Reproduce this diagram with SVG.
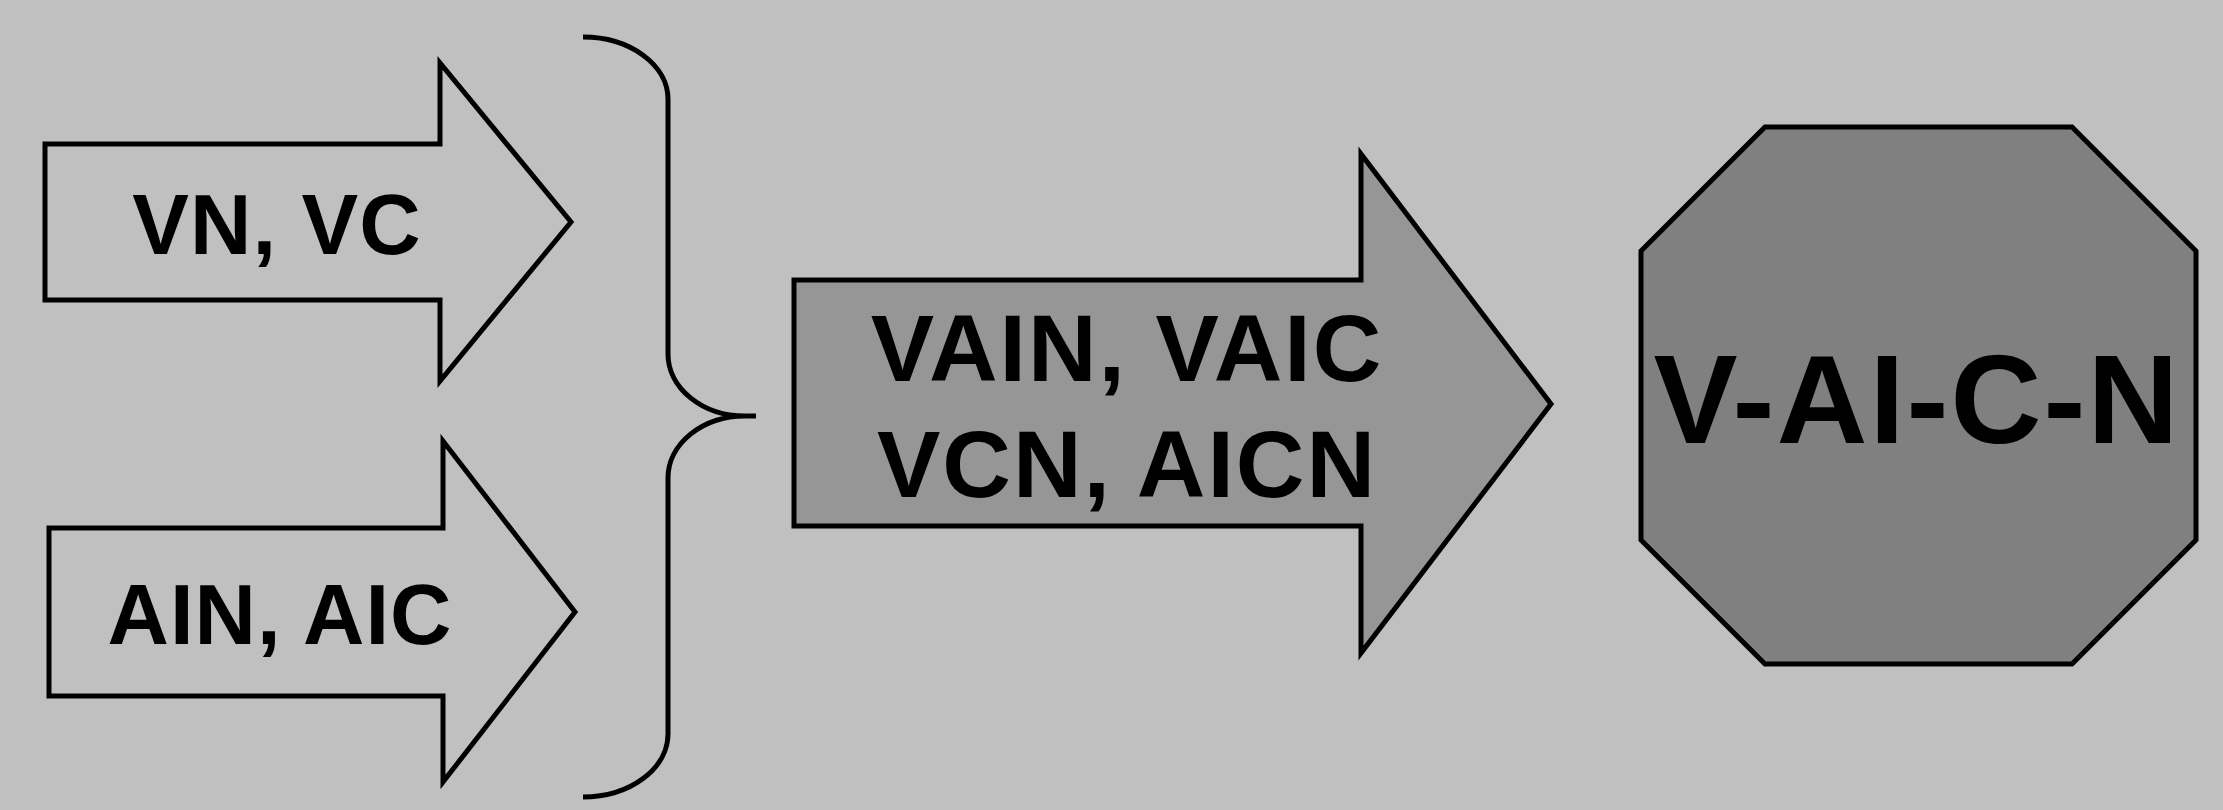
<svg xmlns="http://www.w3.org/2000/svg" width="2223" height="810" viewBox="0 0 2223 810">
  <style>
    .shape { stroke: #000; stroke-width: 5; stroke-linejoin: miter; }
    .label { font-family: "Liberation Sans", Arial, sans-serif; font-weight: bold; fill: #000; text-anchor: middle; }
    .brace { fill: none; stroke: #000; stroke-width: 5; }
  </style>
  <rect x="0" y="0" width="2223" height="810" fill="#c0c0c0"/>

  <!-- input arrows -->
  <g id="arrow-vn-vc">
    <polygon class="shape" fill="#c0c0c0" points="45,144 440,144 440,63 571,222 440,381 440,300 45,300"/>
    <text class="label" x="277" y="254" font-size="85" letter-spacing="1">VN, VC</text>
  </g>
  <g id="arrow-ain-aic">
    <polygon class="shape" fill="#c0c0c0" points="49,528 443,528 443,441 575,612 443,782 443,696 49,696"/>
    <text class="label" x="280" y="644" font-size="85" letter-spacing="1">AIN, AIC</text>
  </g>

  <!-- brace joining the two inputs -->
  <g id="connectors">
    <path class="brace" d="M583,37 A85 62 0 0 1 668,99 L668,354 A77 62 0 0 0 745,416 L756,416 M745,416 A77 62 0 0 0 668,478 L668,734 A85 63 0 0 1 583,797"/>
  </g>

  <!-- combined systems arrow -->
  <g id="arrow-ternary">
    <polygon class="shape" fill="#969696" points="794,280 1361,280 1361,154 1551,404 1361,653 1361,526 794,526"/>
    <text class="label" x="1127" y="381" font-size="95" letter-spacing="2">VAIN, VAIC</text>
    <text class="label" x="1127" y="497" font-size="95" letter-spacing="2">VCN, AICN</text>
  </g>

  <!-- quaternary result -->
  <g id="octagon-vaicn">
    <polygon class="shape" fill="#808080" points="1765,127 2072,127 2196,251 2196,540 2072,664 1765,664 1641,540 1641,251"/>
    <text class="label" x="1917" y="443" font-size="126" letter-spacing="2">V-AI-C-N</text>
  </g>
</svg>
